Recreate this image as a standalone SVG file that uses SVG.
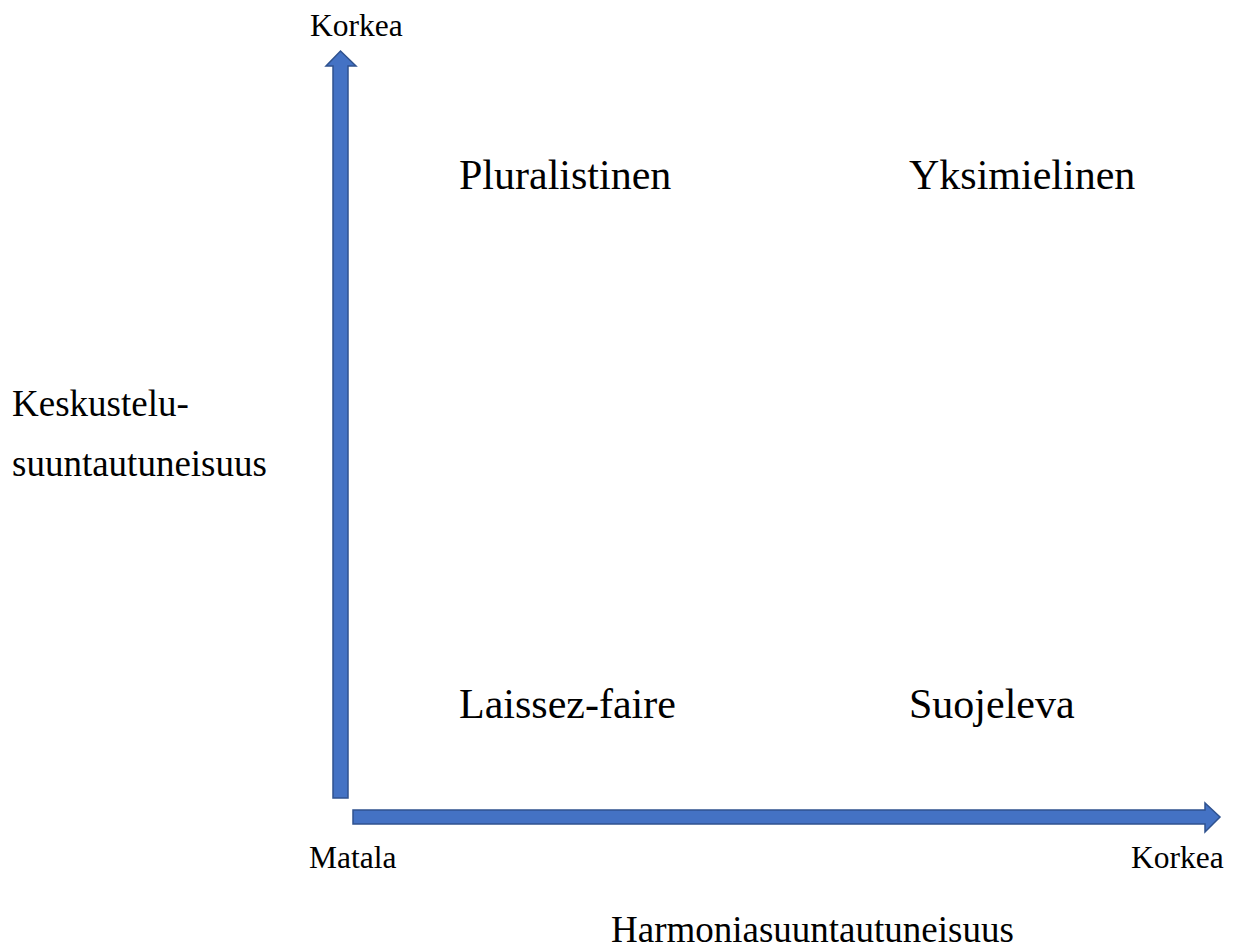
<svg xmlns="http://www.w3.org/2000/svg" width="1234" height="948" viewBox="0 0 1234 948">
<style>
.arrow{fill:#4472C4;stroke:#2F528F;stroke-width:1.5}
text{font-family:"Liberation Serif","Times New Roman",serif;fill:#000}
.q{font-size:42px}
.a{font-size:37px}
.s{font-size:31.5px}
</style>
<rect width="1234" height="948" fill="#fff"/>
<g id="connectors">
<path class="arrow" d="M333,798 L333,66 L326,66 L340.5,51 L356,66 L348,66 L348,798 Z"/>
<path class="arrow" d="M353,810 L1205,810 L1205,803 L1220,817 L1205,832 L1205,824 L353,824 Z"/>
</g>
<g id="axis-y-high"><text class="s" x="310" y="36">Korkea</text></g>
<g id="axis-x-low"><text class="s" x="309" y="868">Matala</text></g>
<g id="axis-x-high"><text class="s" x="1131" y="868">Korkea</text></g>
<g id="axis-y-title"><text class="a" x="12" y="416">Keskustelu-</text><text class="a" x="12" y="476">suuntautuneisuus</text></g>
<g id="axis-x-title"><text class="a" x="611" y="942">Harmoniasuuntautuneisuus</text></g>
<g id="pluralistinen"><text class="q" x="459" y="189">Pluralistinen</text></g>
<g id="yksimielinen"><text class="q" x="909" y="189">Yksimielinen</text></g>
<g id="laissez-faire"><text class="q" x="459" y="718">Laissez-faire</text></g>
<g id="suojeleva"><text class="q" x="909" y="718">Suojeleva</text></g>
</svg>
